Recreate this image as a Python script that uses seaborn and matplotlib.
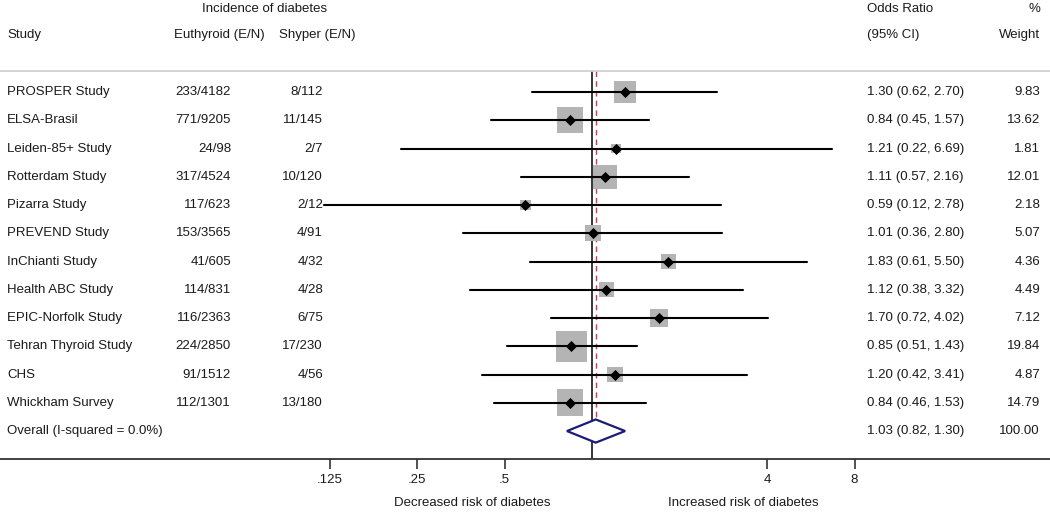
import numpy as np
import pandas as pd
import seaborn as sns
import matplotlib
matplotlib.use("Agg")
import matplotlib.pyplot as plt

# data
studies = ["PROSPER Study", "ELSA-Brasil", "Leiden-85+ Study", "Rotterdam Study",
           "Pizarra Study", "PREVEND Study", "InChianti Study", "Health ABC Study",
           "EPIC-Norfolk Study", "Tehran Thyroid Study", "CHS", "Whickham Survey"]
euthyroid = ["233/4182", "771/9205", "24/98", "317/4524", "117/623", "153/3565",
             "41/605", "114/831", "116/2363", "224/2850", "91/1512", "112/1301"]
shyper = ["8/112", "11/145", "2/7", "10/120", "2/12", "4/91",
          "4/32", "4/28", "6/75", "17/230", "4/56", "13/180"]
odds = [1.30, 0.84, 1.21, 1.11, 0.59, 1.01, 1.83, 1.12, 1.70, 0.85, 1.20, 0.84]
ci_low = [0.62, 0.45, 0.22, 0.57, 0.12, 0.36, 0.61, 0.38, 0.72, 0.51, 0.42, 0.46]
ci_high = [2.70, 1.57, 6.69, 2.16, 2.78, 2.80, 5.50, 3.32, 4.02, 1.43, 3.41, 1.53]
weight = [9.83, 13.62, 1.81, 12.01, 2.18, 5.07, 4.36, 4.49, 7.12, 19.84, 4.87, 14.79]
overall_label = "Overall (I-squared = 0.0%)"
overall = (1.03, 0.82, 1.30)
overall_weight = 100.00
tick_vals = [0.125, 0.25, 0.5, 4, 8]
tick_labels = [".125", ".25", ".5", "4", "8"]

df = pd.DataFrame({"study": studies, "or": odds, "lo": ci_low, "hi": ci_high,
                   "w": weight, "row": np.arange(len(studies))})

sns.set_theme(style="white")
plt.rcParams["font.family"] = ["Liberation Sans", "DejaVu Sans"]
fs = 9.5
txt = "#1a1a1a"

fig = plt.figure(figsize=(10.5, 5.12), dpi=100)
ax = fig.add_axes([0, 0.1035, 1, 0.7578])
ax.set_xscale("log", base=2)
ax.set_xlim(2 ** (-592 / 87.5), 2 ** (458 / 87.5))
ax.set_ylim(12.99, -0.743)

# confidence intervals
for _, r in df.iterrows():
    ax.plot([r.lo, r.hi], [r.row, r.row], color="black", lw=1.5, zorder=3)

# weight boxes
sns.scatterplot(data=df, x="or", y="row", size="w", sizes=(0, 2540),
                size_norm=(0, 100), marker="s", color="#b4b4b4",
                linewidth=0, legend=False, ax=ax, zorder=2)
# point estimates
sns.scatterplot(data=df, x="or", y="row", marker="D", s=32, color="black",
                linewidth=0, legend=False, ax=ax, zorder=4)

# null line and overall estimate line
ax.axvline(1, color="black", lw=1.1, zorder=1)
n = len(studies)
ax.plot([overall[0], overall[0]], [-0.743, n + 0.35], color="#b04a5a",
        lw=1.0, ls=(0, (4, 3)), zorder=1)

# overall diamond
est, lo, hi = overall
ax.fill([lo, est, hi, est, lo], [n, n - 0.41, n, n + 0.41, n],
        facecolor="white", edgecolor="#1c1c78", lw=1.6, zorder=4)

# axes styling
for s in ["left", "right"]:
    ax.spines[s].set_visible(False)
ax.spines["top"].set_color("#d0d0d0")
ax.spines["top"].set_linewidth(1.3)
ax.spines["bottom"].set_color("#333333")
ax.spines["bottom"].set_linewidth(1.3)
ax.set_yticks([])
ax.set_xticks(tick_vals)
ax.set_xticklabels(tick_labels)
ax.minorticks_off()
ax.tick_params(axis="x", direction="out", length=7.5, width=1.2, color="#333333",
               pad=3.5, labelsize=fs, labelcolor=txt, bottom=True)
ax.set_xlabel("")
ax.set_ylabel("")

tr = ax.get_yaxis_transform()
W = 1050.0
kw = dict(transform=tr, fontsize=fs, color=txt, va="center", clip_on=False)

# headers
ax.text(265 / W, -2.93, "Incidence of diabetes", ha="center", **kw)
ax.text(7 / W, -2.02, "Study", ha="left", **kw)
ax.text(174 / W, -2.02, "Euthyroid (E/N)", ha="left", **kw)
ax.text(279 / W, -2.02, "Shyper (E/N)", ha="left", **kw)
ax.text(867 / W, -2.93, "Odds Ratio", ha="left", **kw)
ax.text(867 / W, -2.02, "(95% CI)", ha="left", **kw)
ax.text(1040 / W, -2.93, "%", ha="right", **kw)
ax.text(1040 / W, -2.02, "Weight", ha="right", **kw)

# rows
for i in range(n):
    ax.text(7 / W, i, studies[i], ha="left", **kw)
    ax.text(231 / W, i, euthyroid[i], ha="right", **kw)
    ax.text(323 / W, i, shyper[i], ha="right", **kw)
    ax.text(867 / W, i, f"{odds[i]:.2f} ({ci_low[i]:.2f}, {ci_high[i]:.2f})", ha="left", **kw)
    ax.text(1040 / W, i, f"{weight[i]:.2f}", ha="right", **kw)

ax.text(7 / W, n, overall_label, ha="left", **kw)
ax.text(867 / W, n, f"{est:.2f} ({lo:.2f}, {hi:.2f})", ha="left", **kw)
ax.text(1040 / W, n, f"{overall_weight:.2f}", ha="right", **kw)

# bottom captions
ax.text(472 / W, 14.55, "Decreased risk of diabetes", ha="center", **kw)
ax.text(743 / W, 14.55, "Increased risk of diabetes", ha="center", **kw)

fig.savefig("out.png", dpi=100)
